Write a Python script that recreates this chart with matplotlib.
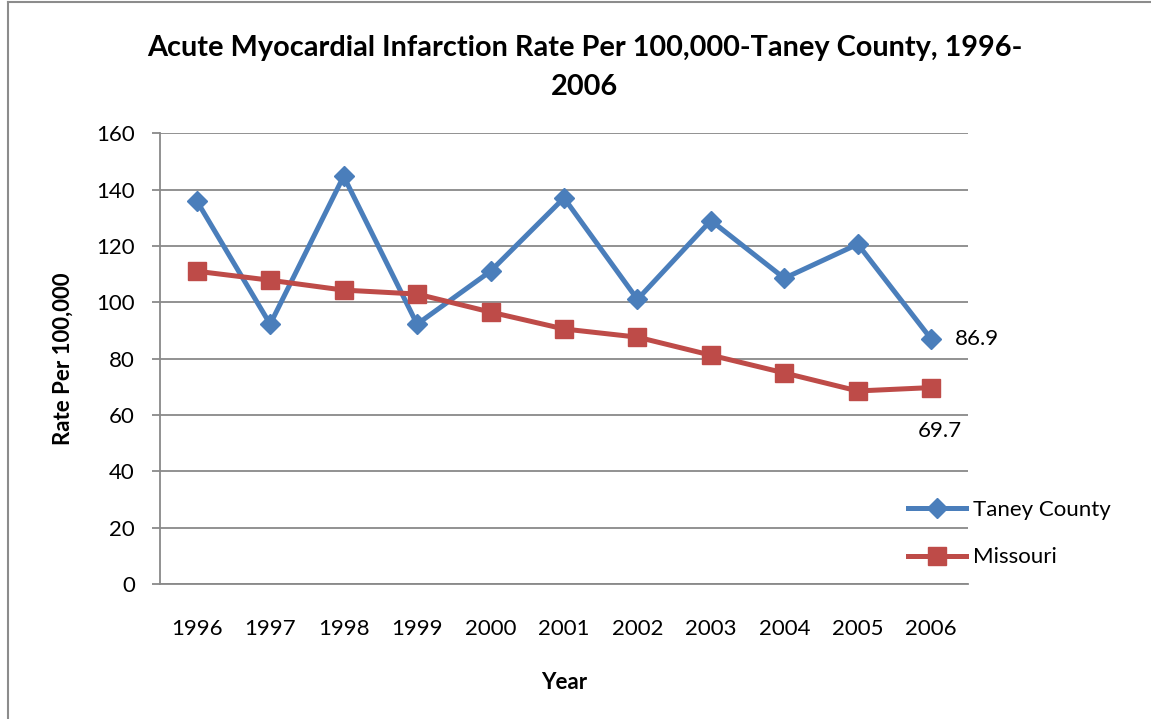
import matplotlib
matplotlib.use("Agg")
import matplotlib.pyplot as plt
from matplotlib.lines import Line2D

# данные
years = ["1996", "1997", "1998", "1999", "2000", "2001", "2002", "2003", "2004", "2005", "2006"]
taney = [136.0, 92.2, 144.7, 92.2, 111.0, 137.0, 101.0, 129.0, 108.5, 120.6, 86.9]
missouri = [111.0, 107.8, 104.3, 102.9, 96.5, 90.5, 87.6, 81.2, 74.9, 68.5, 69.7]
y_ticks = [0, 20, 40, 60, 80, 100, 120, 140, 160]

BLUE = "#4A7EBB"
RED = "#BE4B48"
GRID = "#898989"

plt.rcParams["font.family"] = ["Lato", "DejaVu Sans"]

fig = plt.figure(figsize=(11.51, 7.19), dpi=100)
ax = fig.add_axes([0.139, 0.1878, 0.702, 0.627])

x = list(range(len(years)))
ax.plot(x, taney, color=BLUE, lw=3.6, marker="D", markersize=10, label="Taney County")
ax.plot(x, missouri, color=RED, lw=3.6, marker="s", markersize=13, label="Missouri")

ax.set_xlim(-0.5, len(years) - 0.5)
ax.set_ylim(0, 160)
ax.set_yticks(y_ticks)
ax.set_xticks(x)
ax.set_xticklabels(years)
ax.grid(axis="y", color=GRID, lw=1.3)
ax.set_axisbelow(True)

for side in ["top", "right"]:
    ax.spines[side].set_visible(False)
ax.spines["left"].set_color(GRID)
ax.spines["left"].set_linewidth(1.3)
ax.spines["bottom"].set_color(GRID)
ax.spines["bottom"].set_linewidth(1.3)
ax.tick_params(axis="y", length=6, width=1.3, color=GRID, labelsize=16, pad=12)
ax.tick_params(axis="x", length=0, labelsize=16, pad=25)

ax.set_xlabel("Year", fontsize=16, fontweight="bold", labelpad=24)
ax.set_ylabel("Rate Per 100,000", fontsize=16, fontweight="bold", labelpad=16)

fig.suptitle("Acute Myocardial Infarction Rate Per 100,000-Taney County, 1996-\n2006",
             x=0.508, y=0.952, fontsize=20.8, fontweight="bold", linespacing=1.65)

# подписи последних точек
ax.annotate(f"{taney[-1]:.1f}", (x[-1], taney[-1]), xytext=(17, 0),
            textcoords="offset points", fontsize=16, va="center", ha="left")
ax.annotate(f"{missouri[-1]:.1f}", (x[-1], missouri[-1]), xytext=(-10, -31),
            textcoords="offset points", fontsize=16, va="center", ha="left")

ax.legend(loc="upper left", bbox_to_anchor=(0.915, 0.207), frameon=False, fontsize=16,
          handlelength=2.6, handletextpad=0.3, labelspacing=1.25, borderaxespad=0)
ax.get_legend().set_clip_on(False)

# рамка вокруг диаграммы
fig.add_artist(Line2D([0.007, 0.007], [0, 0.997], color="#8C8C8C", lw=1.5))
fig.add_artist(Line2D([0.007, 1.0], [0.997, 0.997], color="#8C8C8C", lw=1.5))

fig.savefig("out.png", dpi=100)
